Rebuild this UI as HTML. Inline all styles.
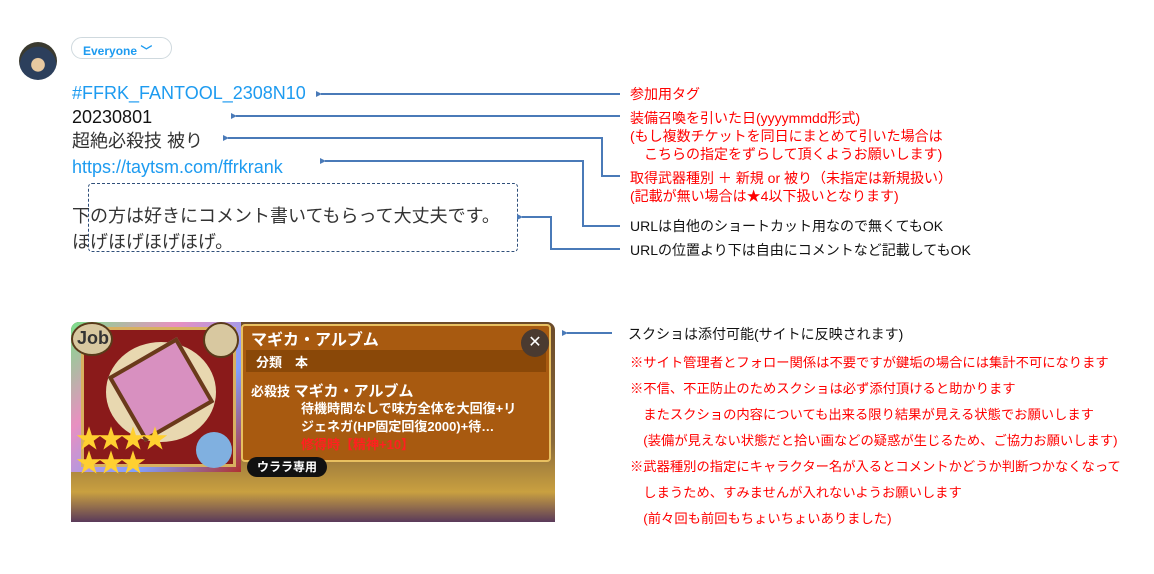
<!DOCTYPE html>
<html><head><meta charset="utf-8"><style>
*{margin:0;padding:0;box-sizing:border-box}
body{width:1154px;height:574px;background:#fff;position:relative;overflow:hidden;font-family:"Liberation Sans","Noto Sans CJK JP",sans-serif}
.a{position:absolute;white-space:nowrap}
.tw{font-size:18px;color:#333;line-height:22px}
.blue{color:#1d9bf0}
.red{color:#f00;font-size:14px;line-height:18px}
.blk{color:#111;font-size:14px;line-height:18px}
.r2{color:#f00;font-size:13.3px;line-height:18px}
</style></head><body>
<div class="a" style="left:19px;top:42px;width:38px;height:38px;border-radius:50%;background:radial-gradient(circle at 50% 60%,#e8c9a0 0 22%,#2c3f5c 24% 60%,#3a3a30 62%)"></div>
<div class="a" style="left:71px;top:37px;width:101px;height:22px;border:1px solid #cfd9de;border-radius:12px;color:#1d9bf0;font-size:12px;font-weight:bold;padding:4px 0 0 11px">Everyone ﹀</div>
<div class="a tw blue" style="left:72px;top:82px">#FFRK_FANTOOL_2308N10</div>
<div class="a tw" style="left:72px;top:106px;color:#111">20230801</div>
<div class="a tw" style="left:72px;top:130px">超絶必殺技 被り</div>
<div class="a tw blue" style="left:72px;top:156px">https://taytsm.com/ffrkrank</div>
<div class="a tw" style="left:72px;top:205px">下の方は好きにコメント書いてもらって大丈夫です。</div>
<div class="a tw" style="left:72px;top:231px">ほげほげほげほげ。</div>
<div class="a" style="left:88px;top:183px;width:430px;height:69px;border:1px dashed #2f4f7a;border-radius:4px"></div>

<svg class="a" style="left:0;top:0" width="1154" height="574">
<defs><marker id="m" markerUnits="userSpaceOnUse" markerWidth="8" markerHeight="8" refX="1" refY="3" orient="auto"><path d="M6,0 L0,3 L6,6z" fill="#4a7ab8"/></marker></defs>
<g stroke="#4a7ab8" stroke-width="2" fill="none">
<polyline points="620,94 321,94" marker-end="url(#m)"/>
<polyline points="620,116 236,116" marker-end="url(#m)"/>
<polyline points="620,176 602,176 602,138 228,138" marker-end="url(#m)"/>
<polyline points="620,226 583,226 583,161 325,161" marker-end="url(#m)"/>
<polyline points="620,249 551,249 551,217 522,217" marker-end="url(#m)"/>
<polyline points="612,333 567,333" marker-end="url(#m)"/>
</g></svg>

<div class="a red" style="left:630px;top:85px">参加用タグ</div>
<div class="a red" style="left:630px;top:109px">装備召喚を引いた日(yyyymmdd形式)</div>
<div class="a red" style="left:630px;top:127px">(もし複数チケットを同日にまとめて引いた場合は</div>
<div class="a red" style="left:630px;top:145px">　こちらの指定をずらして頂くようお願いします)</div>
<div class="a red" style="left:630px;top:169px">取得武器種別 ＋ 新規 or 被り（未指定は新規扱い）</div>
<div class="a red" style="left:630px;top:187px">(記載が無い場合は★4以下扱いとなります)</div>
<div class="a blk" style="left:630px;top:217px">URLは自他のショートカット用なので無くてもOK</div>
<div class="a blk" style="left:630px;top:241px">URLの位置より下は自由にコメントなど記載してもOK</div>

<div class="a blk" style="left:628px;top:325px">スクショは添付可能(サイトに反映されます)</div>
<div class="a r2" style="left:630px;top:354px">※サイト管理者とフォロー関係は不要ですが鍵垢の場合には集計不可になります</div>
<div class="a r2" style="left:630px;top:380px">※不信、不正防止のためスクショは必ず添付頂けると助かります</div>
<div class="a r2" style="left:630px;top:406px">　またスクショの内容についても出来る限り結果が見える状態でお願いします</div>
<div class="a r2" style="left:630px;top:432px">　(装備が見えない状態だと拾い画などの疑惑が生じるため、ご協力お願いします)</div>
<div class="a r2" style="left:630px;top:458px">※武器種別の指定にキャラクター名が入るとコメントかどうか判断つかなくなって</div>
<div class="a r2" style="left:630px;top:484px">　しまうため、すみませんが入れないようお願いします</div>
<div class="a r2" style="left:630px;top:510px">　(前々回も前回もちょいちょいありました)</div>

<div class="a" style="left:71px;top:322px;width:484px;height:200px;border-radius:8px 8px 0 0;overflow:hidden;background:linear-gradient(180deg,#6b4a2a 0%,#8a6a3a 60%,#c9a040 85%,#5a3a5a 100%)">
 <div class="a" style="left:0;top:0;width:170px;height:150px;background:linear-gradient(135deg,#7be08a,#e890c0,#80a0ff,#b03030)"></div>
 <div class="a" style="left:10px;top:5px;width:155px;height:140px;background:#8a1a1a;border:3px solid #d8b060"></div>
 <div class="a" style="left:35px;top:20px;width:110px;height:100px;border-radius:50%;background:#e8d8b0"></div>
 <div class="a" style="left:50px;top:30px;width:80px;height:75px;background:#d890c0;transform:rotate(-30deg);border:4px solid #6a3a1a"></div>
 <div class="a" style="left:0px;top:0px;width:42px;height:34px;border-radius:50%;background:#d8c8a0;border:2px solid #5a3a1a;font-size:18px;font-weight:bold;color:#333;padding:4px 0 0 4px">Job</div>
 <div class="a" style="left:132px;top:0px;width:36px;height:36px;border-radius:50%;background:#d8c8a0;border:2px solid #5a3a1a"></div>
 <div class="a" style="left:5px;top:105px;font-size:26px;color:#ffd030;line-height:24px;letter-spacing:-4px">★★★★<br>★★★</div>
 <div class="a" style="left:125px;top:110px;width:36px;height:36px;border-radius:50%;background:#80b0e0"></div>
 <div class="a" style="left:170px;top:2px;width:310px;height:138px;background:#a85a10;border:2px solid #e8c060;border-radius:4px"></div>
 <div class="a" style="left:180px;top:4px;font-size:16px;font-weight:bold;color:#fff">マギカ・アルブム</div>
 <div class="a" style="left:175px;top:28px;width:300px;height:22px;background:#8a4808"></div>
 <div class="a" style="left:185px;top:30px;font-size:13px;font-weight:bold;color:#fff">分類　本</div>
 <div class="a" style="left:180px;top:58px;font-size:13px;font-weight:bold;color:#fff">必殺技 <span style="font-size:15px">マギカ・アルブム</span></div>
 <div class="a" style="left:230px;top:78px;font-size:13px;font-weight:bold;color:#fff;line-height:18px">待機時間なしで味方全体を大回復+リ<br>ジェネガ(HP固定回復2000)+待…<br><span style="color:#ff2020">修得時【精神+10】</span></div>
 <div class="a" style="left:450px;top:7px;width:28px;height:28px;border-radius:50%;background:#4a3a30;color:#fff;font-size:16px;text-align:center;line-height:28px">✕</div>
 <div class="a" style="left:176px;top:135px;width:80px;height:20px;border-radius:10px;background:#111;color:#fff;font-size:12px;font-weight:bold;text-align:center;line-height:20px">ウララ専用</div>
</div>
</body></html>
